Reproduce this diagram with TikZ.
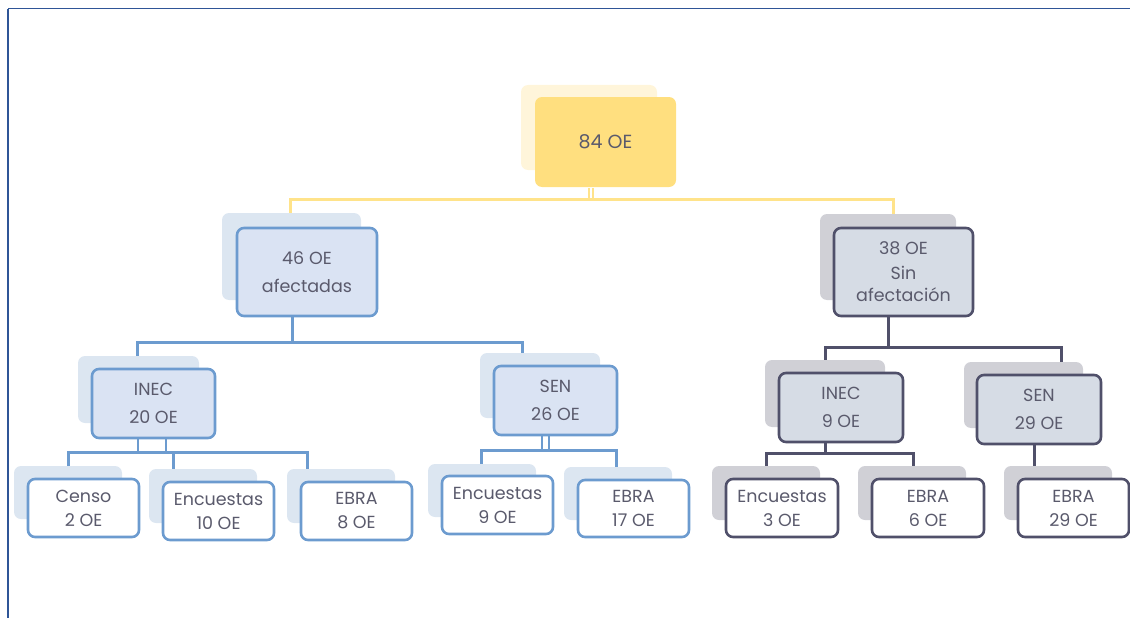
\documentclass[tikz,border=0pt]{standalone}
\usepackage{fontspec}
\setmainfont{Poppins}
\pgfdeclarelayer{background}
\pgfsetlayers{background,main}
\definecolor{txt}{HTML}{5A5A6C}
\definecolor{ylf}{HTML}{FFDF7F}
\definecolor{ylb}{HTML}{FFF5DA}
\definecolor{yll}{HTML}{FFE38A}
\definecolor{blf}{HTML}{DAE3F3}
\definecolor{bls}{HTML}{6C9BCF}
\definecolor{blb}{HTML}{DCE6F1}
\definecolor{dkf}{HTML}{D6DCE5}
\definecolor{dks}{HTML}{50506A}
\definecolor{dkb}{HTML}{D0D0D6}
\definecolor{frame}{HTML}{2F5597}
\begin{document}
\begin{tikzpicture}[x=1pt,y=-1pt,
  box/.style={rectangle,rounded corners=7pt,inner sep=0pt,align=center,text=txt,
    line width=2.6pt,font=\fontsize{17.5}{28}\selectfont},
  sbox/.style={box,font=\fontsize{17.5}{24}\selectfont},
  shad/.style={rectangle,rounded corners=7pt,inner sep=0pt},
  yconn/.style={draw=yll,line width=3pt},
  bconn/.style={draw=bls,line width=3pt},
  dconn/.style={draw=dks,line width=3pt},
  bthin/.style={draw=bls,line width=2.4pt},
  ythin/.style={draw=yll,line width=2pt}
]
\useasboundingbox (0,0) rectangle (1130,618);
\draw[frame,line width=1pt] (1130,9) -- (8,9);
\draw[frame,line width=2pt] (8,9) -- (8,618);

% ---- connector coordinates
\coordinate (t1) at (589,199); \coordinate (t2) at (593,199);
\coordinate (yL) at (290,199); \coordinate (yR) at (893,199);
\coordinate (aJ) at (292,342); \coordinate (aL) at (137,342); \coordinate (aR) at (522,342);
\coordinate (dJ) at (888,347); \coordinate (dL) at (825,347); \coordinate (dR) at (1061,347);
\coordinate (i1) at (138,452); \coordinate (i2) at (166,452);
\coordinate (iL) at (68,452); \coordinate (iM) at (173,452); \coordinate (iR) at (307,452);
\coordinate (s1) at (542,450); \coordinate (s2) at (549,450);
\coordinate (sL) at (481,450); \coordinate (sR) at (616,450);
\coordinate (nJ) at (825,453); \coordinate (nL) at (766,453); \coordinate (nR) at (913,453);
\coordinate (eJ) at (1034,470);

% ---- shadow boxes
\node[shad,fill=ylb,minimum width=136,minimum height=85] (top-s) at (589,127.5) {};
\node[shad,fill=blb,minimum width=139,minimum height=87] (a46-s) at (291.5,256.5) {};
\node[shad,fill=dkb,minimum width=136,minimum height=86] (d38-s) at (888,257) {};
\node[shad,fill=blb,minimum width=121,minimum height=67] (i20-s) at (138.5,389.5) {};
\node[shad,fill=blb,minimum width=120,minimum height=65] (s26-s) at (540,385.5) {};
\node[shad,fill=dkb,minimum width=120,minimum height=67] (i9-s) at (825,393.5) {};
\node[shad,fill=dkb,minimum width=119,minimum height=66] (s29-s) at (1023.5,395) {};
\node[shad,fill=blb,minimum width=108,minimum height=53] (ce-s) at (68,492.5) {};
\node[shad,fill=blb,minimum width=108,minimum height=54] (en10-s) at (203,496) {};
\node[shad,fill=blb,minimum width=108,minimum height=54] (eb8-s) at (341,496) {};
\node[shad,fill=blb,minimum width=108,minimum height=53] (en9-s) at (482,490.5) {};
\node[shad,fill=blb,minimum width=108,minimum height=53] (eb17-s) at (618,493.5) {};
\node[shad,fill=dkb,minimum width=108,minimum height=54] (en3-s) at (766,493) {};
\node[shad,fill=dkb,minimum width=108,minimum height=54] (eb6-s) at (912,493) {};
\node[shad,fill=dkb,minimum width=108,minimum height=54] (eb29-s) at (1058,493) {};

% ---- front boxes
\node[box,fill=ylf,minimum width=141,minimum height=90,font=\fontsize{19}{28}\selectfont] (top) at (605.5,142) {84 OE};
\node[box,fill=blf,draw=bls,minimum width=140,minimum height=88] (a46) at (307,272) {46 OE\\afectadas};
\node[box,fill=dkf,draw=dks,minimum width=139,minimum height=88,font=\fontsize{17.5}{25}\selectfont] (d38) at (903.5,272) {38 OE\\Sin\\[-3pt]afectación};
\node[box,fill=blf,draw=bls,minimum width=123,minimum height=69] (i20) at (153.5,403.5) {INEC\\20 OE};
\node[box,fill=blf,draw=bls,minimum width=123,minimum height=69] (s26) at (555.5,400.5) {SEN\\26 OE};
\node[box,fill=dkf,draw=dks,minimum width=124,minimum height=69] (i9) at (841,407.5) {INEC\\9 OE};
\node[box,fill=dkf,draw=dks,minimum width=124,minimum height=69] (s29) at (1039,409.5) {SEN\\29 OE};
\node[sbox,fill=white,draw=bls,minimum width=111,minimum height=58] (ce) at (83.5,508) {Censo\\2 OE};
\node[sbox,fill=white,draw=bls,minimum width=111,minimum height=58] (en10) at (218.5,511) {Encuestas\\10 OE};
\node[sbox,fill=white,draw=bls,minimum width=111,minimum height=58] (eb8) at (356.5,511) {EBRA\\8 OE};
\node[sbox,fill=white,draw=bls,minimum width=111,minimum height=58] (en9) at (497.5,505) {Encuestas\\9 OE};
\node[sbox,fill=white,draw=bls,minimum width=111,minimum height=57] (eb17) at (633.5,508.5) {EBRA\\17 OE};
\node[sbox,fill=white,draw=dks,minimum width=112,minimum height=58] (en3) at (782,508) {Encuestas\\3 OE};
\node[sbox,fill=white,draw=dks,minimum width=112,minimum height=58] (eb6) at (928,508) {EBRA\\6 OE};
\node[sbox,fill=white,draw=dks,minimum width=111,minimum height=58] (eb29) at (1073.5,508) {EBRA\\29 OE};

% ---- connectors (drawn behind the boxes)
\begin{pgfonlayer}{background}
\draw[ythin] (t1 |- top.south) -- (t1);
\draw[ythin] (t2 |- top.south) -- (t2);
\draw[yconn] (yL |- a46-s.north) -- (yL) -- (yR) -- (yR |- d38.north);
\draw[bconn] (aJ |- a46.south) -- (aJ);
\draw[bconn] (aL |- i20.north) -- (aL) -- (aR) -- (aR |- s26.north);
\draw[dconn] (dJ |- d38.south) -- (dJ);
\draw[dconn] (dL |- i9.north) -- (dL) -- (dR) -- (dR |- s29.north);
\draw[bthin] (i1 |- i20.south) -- (i1);
\draw[bthin] (i2 |- i20.south) -- (i2);
\draw[bconn] (iL |- ce.north) -- (iL) -- (iR) -- (iR |- eb8.north);
\draw[bconn] (iM) -- (iM |- en10.north);
\draw[bthin] (s1 |- s26.south) -- (s1);
\draw[bthin] (s2 |- s26.south) -- (s2);
\draw[bconn] (sL |- en9.north) -- (sL) -- (sR) -- (sR |- eb17.north);
\draw[dconn] (nJ |- i9.south) -- (nJ);
\draw[dconn] (nL |- en3.north) -- (nL) -- (nR) -- (nR |- eb6.north);
\draw[dconn] (eJ |- s29.south) -- (eJ |- eb29.north);
\end{pgfonlayer}
\end{tikzpicture}
\end{document}
